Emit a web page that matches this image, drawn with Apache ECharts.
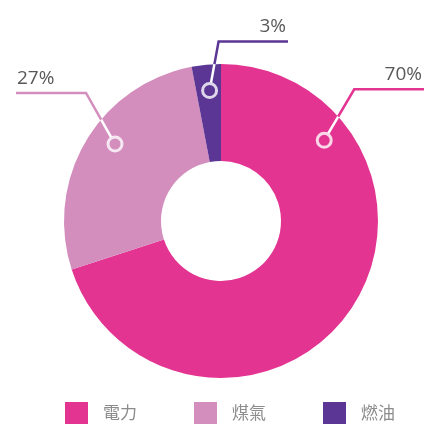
<!DOCTYPE html>
<html>
<head>
<meta charset="utf-8">
<script src="https://cdn.jsdelivr.net/npm/echarts@6/dist/echarts.min.js"></script>
<style>
    html, body { margin: 0; padding: 0; background: #fff; }
    #main { width: 424px; height: 424px; }
</style>
</head>
<body>
<div id="main"></div>
<script>
var categories = ['電力', '煤氣', '燃油'];
var shares = [70, 27, 3];
var colors = ['#e33492', '#d38ebd', '#5b3695'];

// 版面設定
var W = 424;
var cx = 221, cy = 221, outerR = 157, innerR = 60;
var anchorAngles = [52, 306, 355];   // 自12點順時針
var anchorR = 131;
var ringR = 8;
var elbows = [[30, -51], [-29, -51], [9, -49]];
var lineEnds = [424, 16, 288];

function anchorPoint(i) {
    var a = anchorAngles[i] * Math.PI / 180;
    return [cx + anchorR * Math.sin(a), cy - anchorR * Math.cos(a)];
}

// 圓圈邊緣與扇形外緣上的點
function guidePoints(i) {
    var m = anchorPoint(i);
    var len = Math.sqrt(elbows[i][0] * elbows[i][0] + elbows[i][1] * elbows[i][1]);
    var d = [elbows[i][0] / len, elbows[i][1] / len];
    var s = [m[0] + d[0] * ringR, m[1] + d[1] * ringR];
    var px = m[0] - cx, py = m[1] - cy;
    var b = px * d[0] + py * d[1];
    var t = -b + Math.sqrt(b * b - (px * px + py * py - outerR * outerR));
    var edge = [m[0] + d[0] * t, m[1] + d[1] * t];
    var e = [m[0] + elbows[i][0], m[1] + elbows[i][1]];
    return { m: m, s: s, edge: edge, e: e };
}

var pieData = categories.map(function (name, i) {
    return { name: name, value: shares[i], itemStyle: { color: colors[i] } };
});

// 扇形內的白色線段
var whiteSegments = categories.map(function (name, i) {
    var g = guidePoints(i);
    return {
        type: 'line',
        z: 5,
        silent: true,
        symbol: 'none',
        data: [g.s, g.edge],
        lineStyle: { color: '#fff', width: 2.5 }
    };
});

var myChart = echarts.init(document.getElementById('main'));
myChart.setOption({
    animation: false,
    grid: { left: 0, right: 0, top: 0, bottom: 0 },
    xAxis: { type: 'value', min: 0, max: W, show: false },
    yAxis: { type: 'value', min: 0, max: W, inverse: true, show: false },
    legend: {
        data: categories,
        left: 65,
        top: 402,
        padding: 0,
        itemWidth: 23,
        itemHeight: 22,
        itemGap: 57,
        icon: 'rect',
        textStyle: {
            color: '#8c8c8c',
            fontSize: 17,
            fontFamily: 'Noto Sans CJK TC',
            padding: [0, 0, 0, 10]
        }
    },
    series: [
        {
            type: 'pie',
            center: [cx, cy],
            radius: [innerR, outerR],
            startAngle: 90,
            clockwise: true,
            data: pieData,
            label: {
                show: true,
                position: 'outside',
                formatter: '{c}%',
                color: '#595959',
                fontSize: 19,
                fontFamily: 'Open Sans',
                overflow: 'none'
            },
            labelLine: {
                show: true,
                lineStyle: { width: 2.5 }
            },
            labelLayout: function (p) {
                var i = p.dataIndex;
                var g = guidePoints(i);
                var right = lineEnds[i] > g.e[0];
                return {
                    x: right ? lineEnds[i] - 2 : lineEnds[i] + 1,
                    y: g.e[1] - 5,
                    align: right ? 'right' : 'left',
                    verticalAlign: 'bottom',
                    labelLinePoints: [g.s, g.e, [lineEnds[i], g.e[1]]]
                };
            }
        },
        {
            // 白色圓圈
            type: 'scatter',
            z: 6,
            silent: true,
            symbol: 'circle',
            symbolSize: 14,
            data: categories.map(function (name, i) { return anchorPoint(i); }),
            itemStyle: { color: 'transparent', borderColor: '#fff', borderWidth: 3 }
        }
    ].concat(whiteSegments)
});
</script>
</body>
</html>
